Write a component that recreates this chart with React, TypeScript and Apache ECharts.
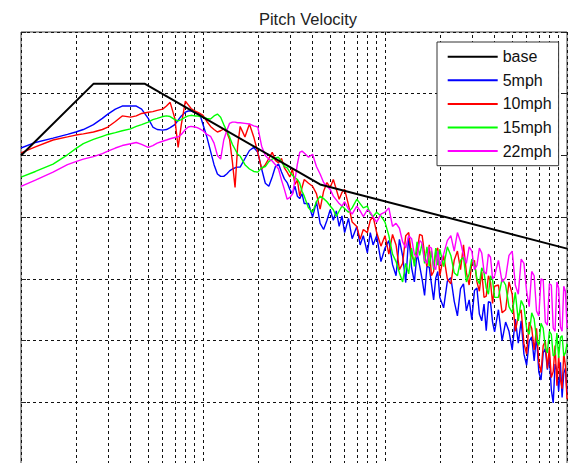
import React, { useEffect, useRef } from "react";
import * as echarts from "echarts";

// Frequencies (Hz) shared by all measured spectra
const freqs = [
  0.1, 0.12, 0.15, 0.18, 0.2, 0.22, 0.25, 0.28, 0.3, 0.33, 0.36, 0.4, 0.43, 0.46, 0.5, 0.53, 0.56, 0.6, 0.63, 0.66, 0.7, 0.73, 0.76, 0.8, 0.83, 0.86, 0.9, 0.93, 0.96, 1.0,
  1.05, 1.1, 1.15, 1.2, 1.25, 1.3, 1.35, 1.4, 1.45, 1.5, 1.55, 1.6, 1.7, 1.8, 1.9, 2.0,
  2.1, 2.2, 2.3, 2.4, 2.5, 2.6, 2.7, 2.8, 2.9, 3.0, 3.1, 3.2, 3.3, 3.4, 3.5, 3.6,
  3.8, 4.0, 4.2, 4.4, 4.6, 4.8, 5.0, 5.2, 5.4, 5.6, 5.8, 6.0, 6.3, 6.6, 7.0, 7.3, 7.6, 8.0, 8.3, 8.6, 9.0, 9.5, 10,
  10.5, 11, 11.5, 12, 12.5, 13, 13.5, 14, 14.5, 15, 15.5, 16, 16.5, 17, 17.5, 18, 18.5, 19, 19.5, 20,
  21, 22, 23, 24, 25, 26, 27, 28, 29, 30, 31, 32, 33, 34, 35, 36, 37, 38, 39, 40,
  42, 44, 46, 48, 50, 52, 54, 56, 58, 60, 62, 64, 66, 68, 70, 72, 74, 76, 78, 80, 82, 84, 86, 88, 90, 92, 94, 96, 98, 100,
];

// log10 of pitch velocity spectrum
const mph5 = [
  -1.88, -1.79, -1.72, -1.66, -1.62, -1.58, -1.50, -1.40, -1.33, -1.25, -1.20, -1.20, -1.20, -1.25, -1.40, -1.54, -1.58, -1.59, -1.58, -1.55, -1.50, -1.43, -1.36, -1.30, -1.28, -1.28, -1.30, -1.32, -1.33, -1.50,
  -1.70, -1.93, -2.15, -2.30, -2.34, -2.34, -2.30, -2.25, -2.22, -2.20, -2.19, -2.19, -2.05, -1.92, -1.87, -1.95,
  -2.22, -2.45, -2.50, -2.35, -2.18, -2.14, -2.27, -2.38, -2.44, -2.55, -2.62, -2.50, -2.66, -2.70, -2.62, -2.78,
  -2.78, -3.00, -2.75, -3.10, -3.20, -3.05, -2.88, -3.05, -2.90, -3.15, -2.98, -3.25, -3.02, -3.35, -3.15, -3.45, -3.30, -3.58, -3.25, -3.45, -3.30, -3.72, -3.50,
  -3.38, -3.77, -3.95, -3.36, -3.63, -4.06, -3.30, -3.82, -4.05, -3.58, -3.79, -4.01, -4.27, -3.80, -3.81, -4.08, -4.34, -3.99, -3.88, -4.30,
  -4.47, -4.04, -3.98, -4.36, -4.60, -4.16, -4.08, -4.52, -4.34, -4.66, -4.19, -4.15, -4.57, -4.68, -4.41, -4.84, -4.37, -4.38, -4.70, -4.86,
  -4.50, -5.00, -4.70, -4.85, -5.15, -4.65, -5.04, -4.68, -5.22, -5.40, -5.01, -4.94, -5.33, -4.92, -5.51, -5.64, -5.20, -5.13, -5.47, -5.26, -5.80, -6.01, -5.38, -5.49, -5.82, -5.35, -5.92, -5.53, -5.45, -5.85,
];

const mph10 = [
  -1.96, -1.86, -1.75, -1.70, -1.67, -1.65, -1.62, -1.58, -1.54, -1.45, -1.36, -1.38, -1.36, -1.32, -1.30, -1.29, -1.27, -1.25, -1.20, -1.14, -1.40, -1.87, -1.50, -1.12, -1.18, -1.24, -1.28, -1.30, -1.32, -1.35,
  -1.45, -1.53, -1.58, -1.62, -1.60, -1.57, -1.62, -1.74, -2.10, -2.52, -1.85, -1.53, -1.70, -1.49, -1.70, -1.95,
  -2.22, -2.15, -2.05, -1.95, -2.08, -2.12, -2.05, -2.20, -2.27, -2.35, -2.22, -2.47, -2.40, -2.66, -2.52, -2.39,
  -2.45, -2.50, -2.62, -2.87, -2.58, -2.44, -2.52, -2.39, -2.55, -2.71, -2.60, -2.55, -2.80, -3.08, -3.15, -3.36, -3.20, -3.25, -3.05, -2.99, -3.25, -3.47, -3.30,
  -3.60, -3.28, -3.45, -3.85, -3.75, -3.30, -3.25, -3.62, -3.72, -3.55, -3.28, -3.30, -3.60, -3.80, -3.45, -3.95, -3.88, -3.55, -3.50, -3.95,
  -3.62, -4.00, -4.08, -3.70, -3.55, -3.85, -3.45, -3.90, -4.10, -3.75, -3.70, -4.05, -4.20, -3.88, -4.30, -4.28, -3.95, -4.05, -4.40, -4.12,
  -4.10, -4.55, -4.50, -4.05, -4.25, -4.85, -4.60, -4.50, -5.05, -5.22, -4.70, -4.80, -5.15, -4.80, -5.35, -5.52, -5.08, -5.01, -5.45, -5.12, -5.60, -5.50, -5.08, -5.73, -5.25, -5.63, -5.78, -5.20, -5.41, -5.95,
];

const mph15 = [
  -2.35, -2.26, -2.14, -1.99, -1.89, -1.81, -1.74, -1.69, -1.66, -1.63, -1.60, -1.57, -1.53, -1.50, -1.46, -1.42, -1.40, -1.37, -1.36, -1.37, -1.42, -1.44, -1.42, -1.38, -1.36, -1.35, -1.36, -1.36, -1.37, -1.38,
  -1.40, -1.41, -1.36, -1.33, -1.38, -1.50, -1.60, -1.70, -1.82, -1.90, -1.98, -2.01, -2.15, -2.22, -2.26, -2.27,
  -2.20, -2.18, -2.10, -2.06, -2.04, -2.03, -2.10, -2.18, -2.20, -2.27, -2.32, -2.36, -2.39, -2.45, -2.58, -2.66,
  -2.85, -2.92, -2.75, -2.66, -2.70, -2.75, -2.82, -2.88, -2.99, -2.90, -2.82, -2.86, -2.92, -2.85, -2.71, -2.78, -2.85, -2.82, -2.95, -2.99, -2.92, -2.98, -3.08,
  -3.30, -3.60, -3.72, -3.90, -4.05, -3.75, -3.92, -3.50, -3.80, -3.40, -3.62, -3.42, -3.75, -3.48, -3.80, -3.55, -3.85, -3.50, -3.78, -3.52,
  -3.80, -3.48, -3.62, -3.90, -3.95, -3.70, -3.65, -4.05, -3.92, -3.68, -3.75, -4.00, -4.08, -3.82, -3.90, -4.15, -4.25, -3.95, -4.02, -4.30,
  -4.30, -4.00, -4.10, -4.45, -4.55, -4.22, -4.68, -4.35, -4.45, -4.80, -4.90, -4.55, -4.65, -4.98, -5.08, -4.72, -4.80, -5.12, -5.20, -4.85, -4.90, -5.25, -5.22, -4.88, -5.28, -4.95, -4.92, -5.25, -5.20, -5.05,
];

const mph22 = [
  -2.50, -2.40, -2.27, -2.15, -2.10, -2.06, -2.02, -1.97, -1.93, -1.88, -1.84, -1.81, -1.79, -1.82, -1.87, -1.84, -1.80, -1.77, -1.75, -1.73, -1.71, -1.70, -1.66, -1.58, -1.54, -1.53, -1.54, -1.55, -1.57, -1.60,
  -1.66, -1.69, -1.80, -2.00, -2.06, -1.75, -1.60, -1.48, -1.46, -1.46, -1.47, -1.47, -1.48, -1.49, -1.52, -1.54,
  -1.85, -2.00, -2.06, -2.09, -2.15, -2.22, -2.40, -2.55, -2.71, -2.68, -2.63, -2.40, -2.14, -1.95, -1.93, -1.96,
  -2.03, -1.98, -2.18, -2.30, -2.44, -2.50, -2.55, -2.66, -2.72, -2.78, -2.82, -2.75, -2.87, -2.95, -2.82, -2.90, -2.99, -2.88, -2.92, -3.00, -3.08, -2.95, -2.92,
  -2.85, -3.15, -3.10, -3.18, -3.40, -3.50, -3.30, -3.35, -3.60, -3.65, -3.38, -3.42, -3.70, -3.75, -3.48, -3.50, -3.80, -3.85, -3.55, -3.78,
  -3.60, -3.38, -3.30, -3.55, -3.25, -3.40, -3.62, -3.75, -3.48, -3.55, -3.85, -3.78, -3.50, -3.58, -3.88, -3.92, -3.60, -3.65, -4.00, -3.95,
  -3.70, -4.05, -3.98, -3.62, -3.55, -4.10, -4.25, -3.68, -3.75, -4.20, -4.45, -3.88, -3.95, -4.52, -4.60, -4.00, -4.02, -4.70, -4.75, -4.08, -4.10, -4.80, -4.85, -4.05, -4.15, -4.78, -4.85, -4.12, -4.20, -4.80,
];

// Base (reference) spectrum corner points
const baseFreqs = [0.1, 0.25, 0.48, 4.4, 100];
const baseValues = [-2.0, -0.84, -0.84, -2.47, -3.51];

// Minor grid lines of the log frequency axis
const minorFreqs = [0.2, 0.3, 0.4, 0.5, 0.6, 0.7, 0.8, 0.9, 2, 3, 4, 5, 6, 7, 8, 9, 20, 30, 40, 50, 60, 70, 80, 90];

const seriesNames = ["base", "5mph", "10mph", "15mph", "22mph"];
const seriesColors = ["#000000", "#0000ff", "#ff0000", "#00ff00", "#ff00ff"];

const FONT = '"Liberation Sans", Arial, Helvetica, sans-serif';

export default function App() {
  const ref = useRef<HTMLDivElement>(null);

  useEffect(() => {
    if (!ref.current) return;
    const chart = echarts.init(ref.current, undefined, { renderer: "svg" });
    const measured = [mph5, mph10, mph15, mph22];
    const gridDash = { type: [3, 3] as any, color: "#111", width: 1 };

    const option: any = {
      animation: false,
      backgroundColor: "#fff",
      title: {
        text: "Pitch Velocity",
        left: 303,
        top: 5,
        textAlign: "center",
        textStyle: { fontFamily: FONT, fontSize: 16.5, fontWeight: "normal", color: "#222" },
      },
      legend: {
        orient: "vertical",
        left: 437,
        top: 42,
        padding: [6.7, 7, 6.6, 9.7],
        itemWidth: 50,
        itemHeight: 16,
        itemGap: 7.6,
        backgroundColor: "#fff",
        borderColor: "#333",
        borderWidth: 1,
        itemStyle: { opacity: 0 },
        data: seriesNames,
        textStyle: { fontFamily: FONT, fontSize: 16, color: "#111" },
      },
      grid: {
        left: 21,
        right: 4,
        top: 32,
        height: 432,
        show: true,
        borderColor: "#444",
        borderWidth: 1,
        backgroundColor: "#fff",
      },
      xAxis: [
        {
          type: "log",
          logBase: 10,
          min: 0.1,
          max: 100,
          axisLine: { show: false },
          axisTick: { show: false },
          axisLabel: { show: false },
          splitLine: { show: true, lineStyle: gridDash },
        },
      ],
      yAxis: [
        {
          type: "value",
          min: -7,
          max: 0,
          interval: 1,
          axisLine: { show: false },
          axisTick: { show: true, inside: true, length: 5, lineStyle: { color: "#222" } },
          axisLabel: { show: false },
          splitLine: { show: true, lineStyle: gridDash },
        },
        {
          type: "value",
          position: "right",
          min: -7,
          max: 0,
          interval: 1,
          axisLine: { show: false },
          axisTick: { show: true, inside: true, length: 5, lineStyle: { color: "#222" } },
          axisLabel: { show: false },
          splitLine: { show: false },
        },
      ],
      series: [
        {
          name: seriesNames[0],
          type: "line",
          symbol: "none",
          z: 4,
          data: baseFreqs.map((f, i) => [f, baseValues[i]]),
          lineStyle: { color: seriesColors[0], width: 2 },
          itemStyle: { color: seriesColors[0] },
          markLine: {
            silent: true,
            z: 1,
            symbol: ["none", "none"],
            label: { show: false },
            lineStyle: gridDash,
            emphasis: { disabled: true },
            data: minorFreqs.map((f) => ({ xAxis: f })),
          },
        },
        ...measured.map((vals, k) => ({
          name: seriesNames[k + 1],
          type: "line",
          symbol: "none",
          z: 2,
          data: freqs.map((f, i) => [f, vals[i]]),
          lineStyle: { color: seriesColors[k + 1], width: 1.4 },
          itemStyle: { color: seriesColors[k + 1] },
        })),
      ],
    };
    chart.setOption(option);
    return () => chart.dispose();
  }, []);

  return (
    <div
      ref={ref}
      style={{ position: "absolute", left: 0, top: 0, width: 571, height: 480, background: "#fff" }}
    />
  );
}
